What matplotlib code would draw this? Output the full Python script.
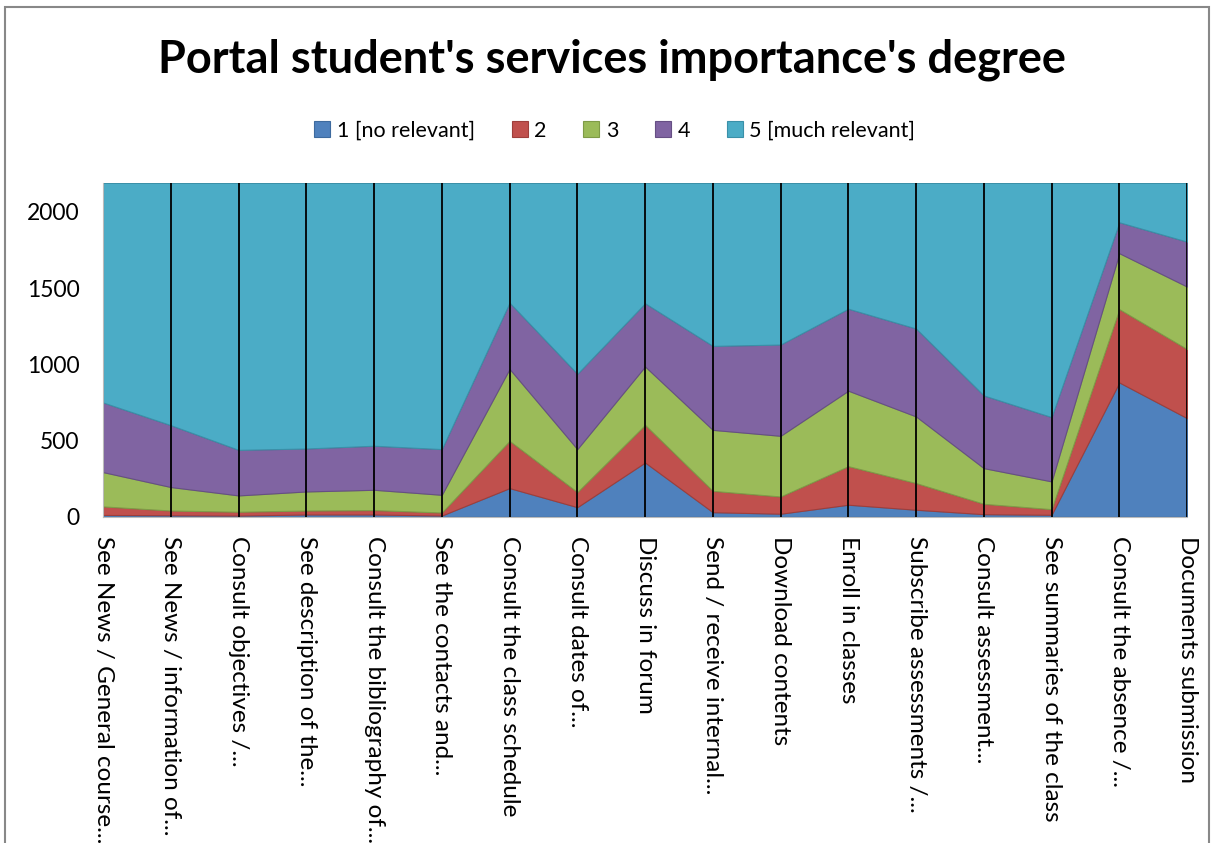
import matplotlib
matplotlib.use('Agg')
import matplotlib.pyplot as plt
import numpy as np
from matplotlib.patches import Rectangle

plt.rcParams['font.family'] = ['Lato', 'DejaVu Sans']

# data
categories = [
    "See News / General course...",
    "See News / information of...",
    "Consult objectives /...",
    "See description of the...",
    "Consult the bibliography of...",
    "See the contacts and...",
    "Consult the class schedule",
    "Consult dates of...",
    "Discuss in forum",
    "Send / receive internal...",
    "Download contents",
    "Enroll in classes",
    "Subscribe assessments /...",
    "Consult assessment...",
    "See summaries of the class",
    "Consult the absence /...",
    "Documents submission",
]
series_names = ["1 [no relevant]", "2", "3", "4", "5 [much relevant]"]
rel1 = [12, 10, 8, 15, 15, 8, 188, 63, 356, 30, 20, 79, 46, 17, 13, 881, 647]
rel2 = [56, 31, 25, 26, 29, 20, 310, 99, 247, 140, 113, 253, 175, 68, 37, 481, 453]
rel3 = [225, 154, 107, 125, 133, 116, 472, 282, 383, 400, 398, 495, 437, 234, 182, 367, 410]
rel4 = [457, 406, 299, 282, 289, 300, 435, 494, 415, 551, 599, 538, 577, 477, 422, 203, 295]
rel5 = [1440, 1589, 1751, 1742, 1724, 1746, 785, 1252, 789, 1069, 1060, 825, 955, 1394, 1536, 258, 385]
yticks = [0, 500, 1000, 1500, 2000]

colors = ['#4F81BD', '#C0504D', '#9BBB59', '#8064A2', '#4BACC6']
edges = ['#3D6A9E', '#9E3E3B', '#7F9B47', '#664F84', '#3A90A8']

fig = plt.figure(figsize=(12.15, 8.43), dpi=100)
ax = fig.add_axes([0.0848, 0.387, 0.8922, 0.396])

x = np.arange(len(categories))
data = np.array([rel1, rel2, rel3, rel4, rel5])
bottom = np.zeros(len(categories))
for vals, name, c, ec in zip(data, series_names, colors, edges):
    top = bottom + vals
    ax.fill_between(x, bottom, top, facecolor=c, edgecolor=ec, linewidth=0.8, label=name)
    bottom = top

# drop lines at every category
total = data.sum(axis=0)
for xi in x[1:]:
    ax.plot([xi, xi], [0, total[xi]], color='black', linewidth=1.3, zorder=3)

ax.set_xlim(0, len(categories) - 1)
ax.set_ylim(0, total.max())
ax.set_yticks(yticks)
ax.set_yticklabels([str(v) for v in yticks], fontsize=16.5)
ax.tick_params(axis='y', length=0, pad=17)
ax.set_xticks(x)
ax.set_xticklabels(categories, rotation=-90, ha='center', va='top', fontsize=17.5)
ax.tick_params(axis='x', length=0, pad=14)
for side in ['top', 'right']:
    ax.spines[side].set_visible(False)
ax.spines['left'].set_color('#BBBBBB')
ax.spines['bottom'].set_color('#BBBBBB')

fig.text(0.504, 0.929, "Portal student's services importance's degree",
         ha='center', va='center', fontsize=32.5, fontweight='bold')

handles, labels = ax.get_legend_handles_labels()
fig.legend(handles, labels, loc='center', bbox_to_anchor=(0.506, 0.845), ncol=5,
           frameon=False, fontsize=15.5, handlelength=0.75, handleheight=0.75,
           handletextpad=0.3, columnspacing=1.7)

fig.add_artist(Rectangle((0.004, -0.01), 0.991, 1.002, transform=fig.transFigure,
                         fill=False, edgecolor='#888888', linewidth=1.5))

fig.savefig('out.png', dpi=100)
